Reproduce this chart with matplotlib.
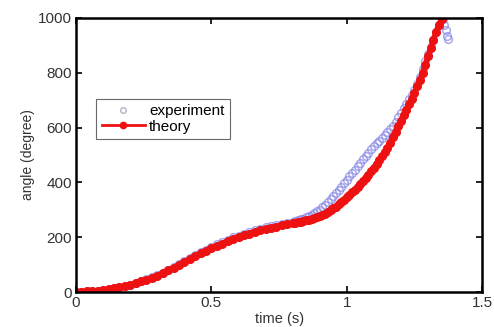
import matplotlib.pyplot as plt

plt.rcParams['font.family'] = ['Liberation Sans', 'DejaVu Sans']

# experiment: open circles
t_exp = [0.00, 0.02, 0.04, 0.06, 0.08, 0.10, 0.12, 0.14, 0.16, 0.18, 0.20, 0.22, 0.24, 0.26, 0.28,
         0.30, 0.32, 0.34, 0.36, 0.38, 0.40, 0.42, 0.44, 0.46, 0.48, 0.50, 0.52, 0.54, 0.56, 0.58,
         0.60, 0.62, 0.64, 0.66, 0.68, 0.70, 0.72, 0.74, 0.76, 0.78, 0.80,
         0.81, 0.82, 0.83, 0.84, 0.85, 0.86, 0.87, 0.88, 0.89, 0.90, 0.91, 0.92, 0.93, 0.94, 0.95,
         0.96, 0.97, 0.98, 0.99, 1.00, 1.01, 1.02, 1.03, 1.04, 1.05, 1.06, 1.07, 1.08, 1.09, 1.10,
         1.11, 1.12, 1.13, 1.14, 1.15, 1.16, 1.17, 1.18, 1.19, 1.20, 1.21, 1.22, 1.23, 1.24, 1.25,
         1.26, 1.27, 1.28, 1.29, 1.30, 1.31, 1.32, 1.33, 1.34, 1.35, 1.355, 1.36, 1.365, 1.37, 1.375]
a_exp = [0, 1, 2, 3, 5, 7, 10, 13, 17, 22, 27, 33, 39, 46, 53,
         61, 70, 80, 91, 101, 112, 123, 134, 145, 155, 165, 174, 183, 191, 199,
         206, 213, 219, 225, 231, 236, 241, 245, 249, 253, 257,
         259, 262, 265, 268, 272, 277, 282, 288, 294, 301, 309, 318, 328, 338, 349,
         360, 372, 384, 397, 410, 422, 435, 447, 460, 472, 485, 497, 509, 521, 532,
         542, 552, 562, 572, 583, 594, 607, 621, 637, 653, 670, 687, 703, 720, 738,
         758, 785, 815, 843, 870, 895, 920, 948, 975, 1000, 995, 975, 955, 935, 922]

# theory: red line with dots
t_th = [0.00, 0.02, 0.04, 0.06, 0.08, 0.10, 0.12, 0.14, 0.16, 0.18, 0.20, 0.22, 0.24, 0.26, 0.28,
        0.30, 0.32, 0.34, 0.36, 0.38, 0.40, 0.42, 0.44, 0.46, 0.48, 0.50, 0.52, 0.54, 0.56, 0.58,
        0.60, 0.62, 0.64, 0.66, 0.68, 0.70, 0.72, 0.74, 0.76, 0.78, 0.80,
        0.81, 0.82, 0.83, 0.84, 0.85, 0.86, 0.87, 0.88, 0.89, 0.90, 0.91, 0.92, 0.93, 0.94, 0.95,
        0.96, 0.97, 0.98, 0.99, 1.00, 1.01, 1.02, 1.03, 1.04, 1.05, 1.06, 1.07, 1.08, 1.09, 1.10,
        1.11, 1.12, 1.13, 1.14, 1.15, 1.16, 1.17, 1.18, 1.19, 1.20, 1.21, 1.22, 1.23, 1.24, 1.25,
        1.26, 1.27, 1.28, 1.29, 1.30, 1.31, 1.32, 1.33, 1.34, 1.35]
a_th = [0, 1, 2, 3, 5, 7, 10, 13, 17, 22, 27, 33, 39, 45, 52,
        60, 69, 79, 89, 99, 109, 120, 131, 141, 151, 160, 169, 177, 185, 193,
        200, 207, 213, 219, 225, 230, 235, 239, 243, 247, 251,
        253, 255, 257, 259, 261, 264, 266, 269, 272, 276, 281, 286, 292, 298, 305,
        312, 320, 328, 336, 345, 354, 364, 374, 384, 394, 405, 416, 428, 440, 453,
        466, 480, 495, 510, 527, 545, 565, 585, 605, 625, 645, 665, 685, 705, 727,
        750, 775, 800, 830, 860, 890, 920, 948, 975, 995]

fig = plt.figure(figsize=(4.94, 3.27), dpi=100)
ax = fig.add_axes([0.154, 0.107, 0.822, 0.838])

ax.plot(t_exp, a_exp, 'o', color='#8585e6', mfc='none', ms=5.5, mew=1.1, alpha=0.7, label='experiment')
ax.plot(t_th, a_th, '-', color='#ee1111', lw=4, marker='o', ms=5.5, mfc='#ee1111', mec='#ee1111',
        label='theory')

ax.set_xlim(0, 1.5)
ax.set_ylim(0, 1000)
ax.set_xticks([0, 0.5, 1, 1.5])
ax.set_xticklabels(['0', '0.5', '1', '1.5'])
ax.set_yticks([0, 200, 400, 600, 800, 1000])
ax.tick_params(direction='in', top=True, right=True, length=4, width=1.2,
               labelsize=11, labelcolor='#333333', pad=3)
for s in ax.spines.values():
    s.set_linewidth(1.8)
ax.set_xlabel('time (s)', fontsize=10.5, color='#333333', labelpad=1)
ax.set_ylabel('angle (degree)', fontsize=10, color='#333333', labelpad=2)

leg = ax.legend(loc='upper left', bbox_to_anchor=(0.05, 0.705), fontsize=11, frameon=True,
                fancybox=False, edgecolor='#444444', borderpad=0.35, handlelength=2.8,
                handletextpad=0.3, labelspacing=0.1, borderaxespad=0)
leg.get_frame().set_linewidth(0.8)
leg.legend_handles[0].set_markersize(4)
leg.legend_handles[0].set_color('#9a9ab0')
leg.legend_handles[1].set_linewidth(2)
leg.legend_handles[1].set_markersize(4.5)

fig.savefig('out.png', dpi=100)
